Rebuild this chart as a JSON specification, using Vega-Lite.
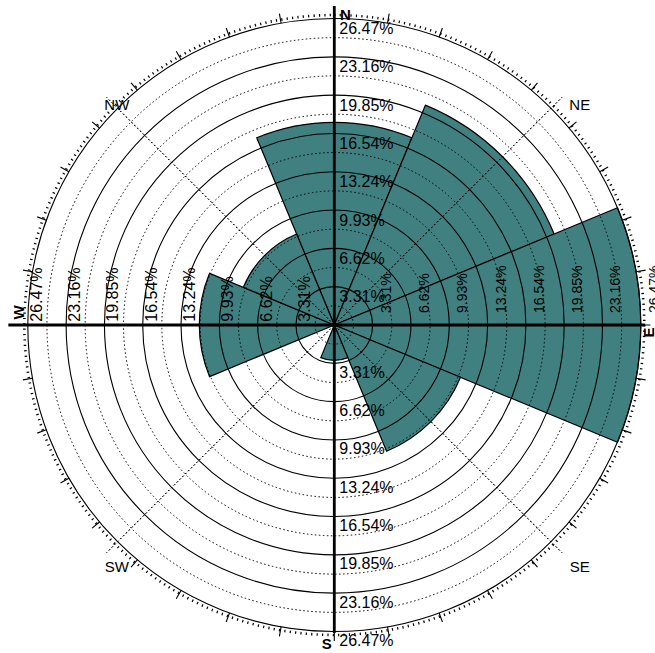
{
  "$schema": "https://vega.github.io/schema/vega-lite/v6.json",
  "width": 640,
  "height": 640,
  "autosize": "none",
  "padding": {"left": 14.3, "top": 5, "right": 0.7, "bottom": 8},
  "background": "white",
  "config": {"view": {"stroke": null}, "font": "Liberation Sans"},
  "datasets": {
    "sectors": [
      {"dir": "N", "from": -22.5, "to": 22.5, "pct": 17.5},
      {"dir": "NE", "from": 22.5, "to": 67.5, "pct": 20.55},
      {"dir": "E", "from": 67.5, "to": 112.5, "pct": 26.47},
      {"dir": "SE", "from": 112.5, "to": 157.5, "pct": 11.8},
      {"dir": "S", "from": 157.5, "to": 202.5, "pct": 3.05},
      {"dir": "SW", "from": 202.5, "to": 247.5, "pct": 0},
      {"dir": "W", "from": 247.5, "to": 292.5, "pct": 11.66},
      {"dir": "NW", "from": 292.5, "to": 337.5, "pct": 8.5}
    ],
    "rings": [
      {"v": 3.31, "label": "3.31%"}, {"v": 6.62, "label": "6.62%"}, {"v": 9.93, "label": "9.93%"}, {"v": 13.24, "label": "13.24%"},
      {"v": 16.54, "label": "16.54%"}, {"v": 19.85, "label": "19.85%"}, {"v": 23.16, "label": "23.16%"}, {"v": 26.47, "label": "26.47%"}
    ],
    "halfrings": [
      {"v": 1.655}, {"v": 4.965}, {"v": 8.275}, {"v": 11.585}, {"v": 14.895}, {"v": 18.205}, {"v": 21.515}, {"v": 24.815}
    ],
    "spokes": [
      {"deg": 0, "len": 27.55}, {"deg": 90, "len": 26.85}, {"deg": 180, "len": 26.6}, {"deg": 270, "len": 28.15}
    ],
    "diagonals": [
      {"deg": 45, "label": "NE"}, {"deg": 135, "label": "SE"}, {"deg": 225, "label": "SW"}, {"deg": 315, "label": "NW"}
    ],
    "majorTicks": [
      {"deg": 0}, {"deg": 10}, {"deg": 20}, {"deg": 30}, {"deg": 40}, {"deg": 50}, {"deg": 60}, {"deg": 70}, {"deg": 80},
      {"deg": 90}, {"deg": 100}, {"deg": 110}, {"deg": 120}, {"deg": 130}, {"deg": 140}, {"deg": 150}, {"deg": 160}, {"deg": 170},
      {"deg": 180}, {"deg": 190}, {"deg": 200}, {"deg": 210}, {"deg": 220}, {"deg": 230}, {"deg": 240}, {"deg": 250}, {"deg": 260},
      {"deg": 270}, {"deg": 280}, {"deg": 290}, {"deg": 300}, {"deg": 310}, {"deg": 320}, {"deg": 330}, {"deg": 340}, {"deg": 350}
    ]
  },
  "layer": [
    {
      "data": {"name": "sectors"},
      "mark": {"type": "arc", "fill": "#408080", "stroke": "black", "strokeWidth": 1.2},
      "encoding": {
        "theta": {"field": "from", "type": "quantitative", "stack": null, "scale": {"type": "linear", "domain": [0, 360], "range": [0, 6.283185307179586], "zero": false, "nice": false}},
        "theta2": {"field": "to"},
        "radius": {"field": "pct", "type": "quantitative", "stack": null, "scale": {"type": "linear", "domain": [0, 26.47], "range": [0, 306.5], "zero": true, "nice": false}}
      }
    },
    {
      "data": {"name": "halfrings"},
      "mark": {"type": "arc", "filled": false, "stroke": "black", "strokeWidth": 1, "strokeDash": [1.5, 2.5]},
      "encoding": {
        "theta": {"datum": 0, "type": "quantitative"},
        "theta2": {"datum": 360},
        "radius": {"field": "v", "type": "quantitative", "stack": null}
      }
    },
    {
      "data": {"name": "rings"},
      "mark": {"type": "arc", "filled": false, "stroke": "black", "strokeWidth": 1.1},
      "encoding": {
        "theta": {"datum": 0, "type": "quantitative"},
        "theta2": {"datum": 360},
        "radius": {"field": "v", "type": "quantitative", "stack": null}
      }
    },
    {
      "data": {"name": "diagonals"},
      "mark": {"type": "arc", "filled": false, "stroke": "black", "strokeWidth": 1, "strokeDash": [1.5, 2.5], "strokeDashOffset": 0.67},
      "encoding": {
        "theta": {"field": "deg", "type": "quantitative", "stack": null},
        "theta2": {"field": "deg"},
        "radius": {"datum": 27.81, "type": "quantitative"},
        "radius2": {"datum": 0}
      }
    },
    {
      "data": {"name": "spokes"},
      "mark": {"type": "arc", "filled": false, "stroke": "black", "strokeWidth": 2.8},
      "encoding": {
        "theta": {"field": "deg", "type": "quantitative", "stack": null},
        "theta2": {"field": "deg"},
        "radius": {"field": "len", "type": "quantitative", "stack": null},
        "radius2": {"datum": 0}
      }
    },
    {
      "data": {"name": "majorTicks"},
      "mark": {"type": "arc", "filled": false, "stroke": "black", "strokeWidth": 1.1},
      "encoding": {
        "theta": {"field": "deg", "type": "quantitative", "stack": null},
        "theta2": {"field": "deg"},
        "radius": {"datum": 27.3, "type": "quantitative"},
        "radius2": {"datum": 26.47}
      }
    },
    {
      "data": {"values": [{"r": 26.77}]},
      "mark": {"type": "arc", "filled": false, "stroke": "black", "strokeWidth": 2.6, "strokeDash": [1.2, 4.21]},
      "encoding": {
        "theta": {"datum": 0, "type": "quantitative"},
        "theta2": {"datum": 360},
        "radius": {"field": "r", "type": "quantitative", "stack": null}
      }
    },
    {
      "data": {"name": "rings"},
      "mark": {"type": "text", "align": "left", "baseline": "top", "dx": 5, "dy": 2.5, "fontSize": 16, "font": "Liberation Sans", "color": "black"},
      "encoding": {
        "theta": {"datum": 0, "type": "quantitative"},
        "radius": {"field": "v", "type": "quantitative", "stack": null},
        "text": {"field": "label"}
      }
    },
    {
      "data": {"name": "rings"},
      "mark": {"type": "text", "align": "left", "baseline": "top", "dx": 5, "dy": 1.5, "fontSize": 16, "font": "Liberation Sans", "color": "black"},
      "encoding": {
        "theta": {"datum": 180, "type": "quantitative"},
        "radius": {"field": "v", "type": "quantitative", "stack": null},
        "text": {"field": "label"}
      }
    },
    {
      "data": {"name": "rings"},
      "mark": {"type": "text", "align": "left", "baseline": "top", "angle": 270, "dx": 3.3, "dy": 1, "fontSize": 16, "font": "Liberation Sans", "color": "black"},
      "encoding": {
        "theta": {"datum": 270, "type": "quantitative"},
        "radius": {"field": "v", "type": "quantitative", "stack": null},
        "text": {"field": "label"}
      }
    },
    {
      "data": {"name": "rings"},
      "mark": {"type": "text", "align": "left", "baseline": "top", "angle": 270, "dx": 12, "dy": 7, "fontSize": 14, "font": "Liberation Sans", "color": "black"},
      "encoding": {
        "theta": {"datum": 90, "type": "quantitative"},
        "radius": {"field": "v", "type": "quantitative", "stack": null},
        "text": {"field": "label"}
      }
    },
    {
      "data": {"name": "diagonals"},
      "mark": {"type": "text", "align": "center", "baseline": "middle", "dx": 14, "dy": 11, "fontSize": 15, "font": "Liberation Sans", "color": "black"},
      "encoding": {
        "theta": {"field": "deg", "type": "quantitative", "stack": null},
        "radius": {"datum": 28.27, "type": "quantitative"},
        "text": {"field": "label"}
      }
    },
    {
      "data": {"values": [{"label": "N", "deg": 0}]},
      "mark": {"type": "text", "align": "center", "baseline": "middle", "dx": 11, "dy": 0, "fontSize": 15, "fontWeight": "bold", "font": "Liberation Sans", "color": "black"},
      "encoding": {
        "theta": {"field": "deg", "type": "quantitative", "stack": null},
        "radius": {"datum": 26.77, "type": "quantitative"},
        "text": {"field": "label"}
      }
    },
    {
      "data": {"values": [{"label": "S", "deg": 180}]},
      "mark": {"type": "text", "align": "center", "baseline": "middle", "dx": -7.6, "dy": 0, "fontSize": 15, "fontWeight": "bold", "font": "Liberation Sans", "color": "black"},
      "encoding": {
        "theta": {"field": "deg", "type": "quantitative", "stack": null},
        "radius": {"datum": 27.51, "type": "quantitative"},
        "text": {"field": "label"}
      }
    },
    {
      "data": {"values": [{"label": "W", "deg": 270}]},
      "mark": {"type": "text", "align": "center", "baseline": "middle", "angle": 270, "dx": 12.5, "dy": 0, "fontSize": 15, "fontWeight": "bold", "font": "Liberation Sans", "color": "black"},
      "encoding": {
        "theta": {"field": "deg", "type": "quantitative", "stack": null},
        "radius": {"datum": 27.23, "type": "quantitative"},
        "text": {"field": "label"}
      }
    },
    {
      "data": {"values": [{"label": "E", "deg": 90}]},
      "mark": {"type": "text", "align": "center", "baseline": "middle", "angle": 270, "dx": -7.5, "dy": 0, "fontSize": 15, "fontWeight": "bold", "font": "Liberation Sans", "color": "black"},
      "encoding": {
        "theta": {"field": "deg", "type": "quantitative", "stack": null},
        "radius": {"datum": 27.18, "type": "quantitative"},
        "text": {"field": "label"}
      }
    }
  ]
}
